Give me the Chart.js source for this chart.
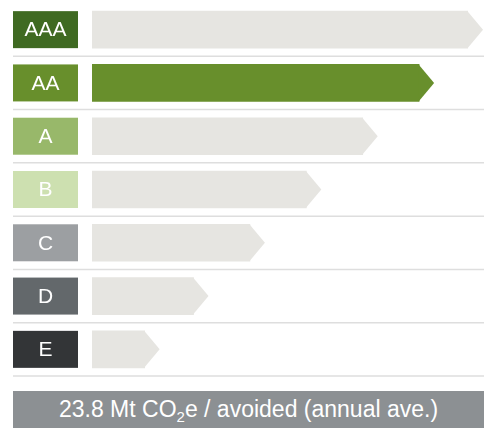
<!DOCTYPE html>
<html>
<head>
<meta charset="utf-8">
<script src="https://cdn.jsdelivr.net/npm/chart.js@4"></script>
<style>
    body { margin: 0; background: #fff; }
    #wrap { position: relative; width: 484px; height: 428px; }
    #banner {
        position: absolute; left: 13px; top: 391px; width: 471px; height: 37px;
        background: #8c9093; color: #fff; text-align: center;
        font: 23px "Liberation Sans", Arial, sans-serif; line-height: 37px;
    }
    #banner sub { font-size: 15px; line-height: 0; vertical-align: -5px; }
</style>
</head>
<body>
<div id="wrap">
    <canvas id="rating-chart" width="484" height="428"></canvas>
    <div id="banner">23.8 Mt CO<sub>2</sub>e / avoided (annual ave.)</div>
</div>
<script>
// rating scale data
const ratings = ["AAA", "AA", "A", "B", "C", "D", "E"];
const barValues = [100, 87, 72, 57, 42, 27, 14];
const ratingColors = ["#3f6a22", "#688f2c", "#98b86a", "#cde0b0", "#9c9fa2", "#63686b", "#333537"];
const activeRating = "AA";

const idleColor = "#e6e5e1";
const barColors = ratings.map((r, i) => (r === activeRating ? ratingColors[i] : idleColor));

// draws arrow tips, the rating boxes on the left and the row separators
const ratingPlugin = {
    id: "ratingPlugin",
    afterDatasetsDraw(chart) {
        const ctx = chart.ctx;
        const meta = chart.getDatasetMeta(0);
        const yScale = chart.scales.y;
        const band = (yScale.bottom - yScale.top) / ratings.length;
        const tip = 15;

        ctx.save();
        meta.data.forEach((bar, i) => {
            const h = bar.height / 2;
            // arrow tip
            ctx.fillStyle = barColors[i];
            ctx.beginPath();
            ctx.moveTo(bar.x - 0.5, bar.y - h);
            ctx.lineTo(bar.x + tip, bar.y);
            ctx.lineTo(bar.x - 0.5, bar.y + h);
            ctx.closePath();
            ctx.fill();

            // label box
            ctx.fillStyle = ratingColors[i];
            ctx.fillRect(13, bar.y - h, 65, h * 2);
            ctx.fillStyle = "#fff";
            ctx.font = '21px "Liberation Sans", Arial, sans-serif';
            ctx.textAlign = "center";
            ctx.textBaseline = "middle";
            ctx.fillText(ratings[i], 45.5, bar.y + 1);

            // separator under the row
            const sy = yScale.getPixelForValue(i) + band / 2;
            ctx.strokeStyle = "#dedede";
            ctx.lineWidth = 1.5;
            ctx.beginPath();
            ctx.moveTo(13, sy);
            ctx.lineTo(chart.width, sy);
            ctx.stroke();
        });
        ctx.restore();
    },
};

const ctx = document.getElementById("rating-chart").getContext("2d");
new Chart(ctx, {
    type: "bar",
    data: {
        labels: ratings,
        datasets: [
            {
                data: barValues,
                backgroundColor: barColors,
                borderWidth: 0,
                barThickness: 37,
                categoryPercentage: 1,
            },
        ],
    },
    options: {
        indexAxis: "y",
        responsive: false,
        animation: false,
        layout: { padding: { left: 92, right: 16, top: 3, bottom: 52 } },
        scales: {
            x: { display: false, min: 0, max: 100 },
            y: { display: false },
        },
        plugins: {
            legend: { display: false },
            tooltip: { enabled: false },
        },
    },
    plugins: [ratingPlugin],
});
</script>
</body>
</html>
